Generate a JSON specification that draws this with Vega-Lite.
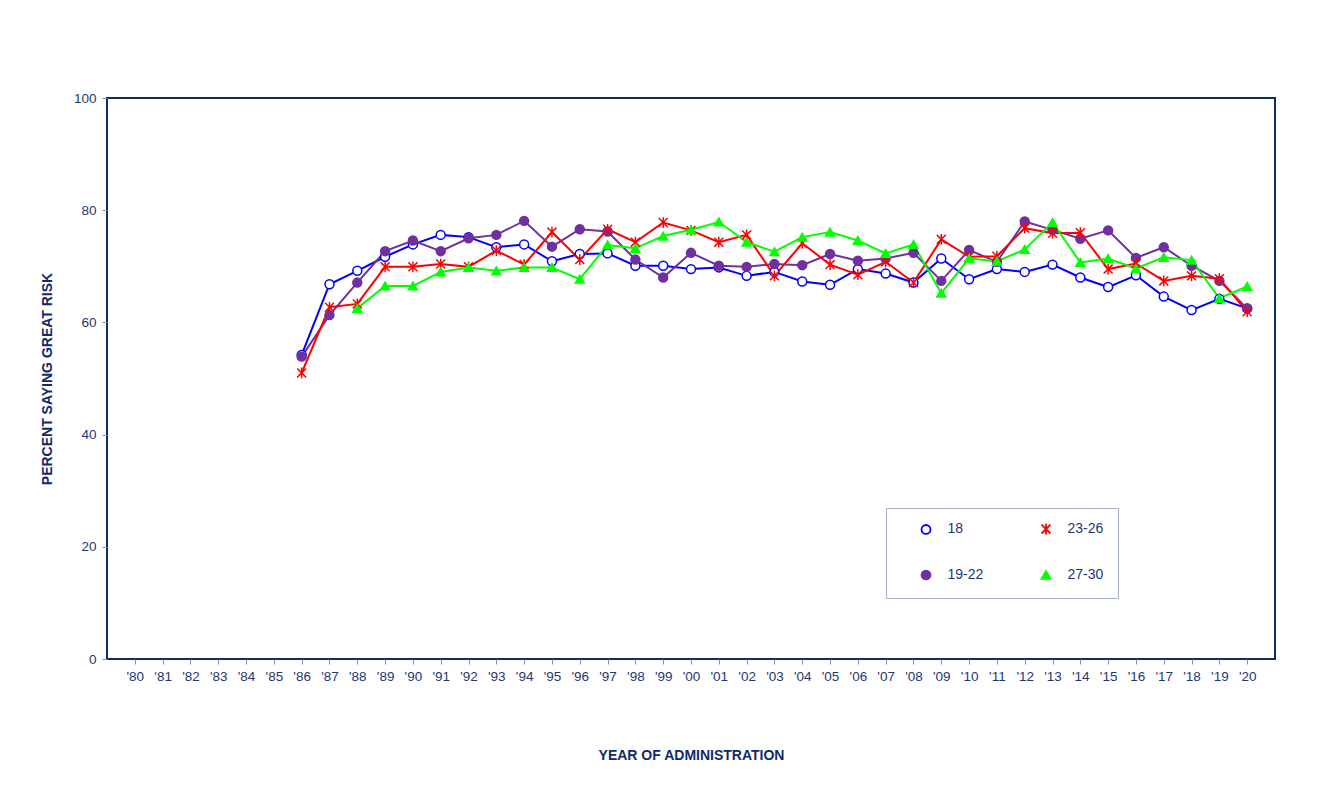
{
  "$schema": "https://vega.github.io/schema/vega-lite/v6.json",
  "width": 1168,
  "height": 561,
  "autosize": "none",
  "padding": {"left": 107, "top": 98, "right": 58, "bottom": 149},
  "background": "white",
  "config": {
    "font": "Liberation Sans",
    "view": {"stroke": "#0F2A6B", "strokeWidth": 2},
    "axis": {"labelColor": "#1F3770", "titleColor": "#0F2A6B", "tickColor": "#8090B0", "domain": false, "grid": false, "labelFontSize": 13.5, "titleFontSize": 14, "titleFontWeight": "bold", "labelFont": "Liberation Sans", "titleFont": "Liberation Sans"},
    "legend": {"title": null, "orient": "none", "legendX": 779, "legendY": 410, "direction": "horizontal", "columns": 2, "strokeColor": "#A7B0CC", "fillColor": "white", "padding": 14, "labelFontSize": 14, "labelColor": "#1F3770", "rowPadding": 28, "columnPadding": 36, "symbolOffset": 19, "labelOffset": 14.5, "gridAlign": "all"}
  },
  "data": {"values": [
    {"year": "'86", "series": "18", "value": 54.2},
    {"year": "'87", "series": "18", "value": 66.8},
    {"year": "'88", "series": "18", "value": 69.2},
    {"year": "'89", "series": "18", "value": 71.7},
    {"year": "'90", "series": "18", "value": 73.9},
    {"year": "'91", "series": "18", "value": 75.6},
    {"year": "'92", "series": "18", "value": 75.2},
    {"year": "'93", "series": "18", "value": 73.4},
    {"year": "'94", "series": "18", "value": 73.9},
    {"year": "'95", "series": "18", "value": 70.9},
    {"year": "'96", "series": "18", "value": 72.2},
    {"year": "'97", "series": "18", "value": 72.3},
    {"year": "'98", "series": "18", "value": 70.1},
    {"year": "'99", "series": "18", "value": 70.1},
    {"year": "'00", "series": "18", "value": 69.5},
    {"year": "'01", "series": "18", "value": 69.8},
    {"year": "'02", "series": "18", "value": 68.3},
    {"year": "'03", "series": "18", "value": 69.0},
    {"year": "'04", "series": "18", "value": 67.3},
    {"year": "'05", "series": "18", "value": 66.7},
    {"year": "'06", "series": "18", "value": 69.5},
    {"year": "'07", "series": "18", "value": 68.7},
    {"year": "'08", "series": "18", "value": 67.1},
    {"year": "'09", "series": "18", "value": 71.4},
    {"year": "'10", "series": "18", "value": 67.7},
    {"year": "'11", "series": "18", "value": 69.5},
    {"year": "'12", "series": "18", "value": 69.0},
    {"year": "'13", "series": "18", "value": 70.3},
    {"year": "'14", "series": "18", "value": 68.0},
    {"year": "'15", "series": "18", "value": 66.3},
    {"year": "'16", "series": "18", "value": 68.4},
    {"year": "'17", "series": "18", "value": 64.6},
    {"year": "'18", "series": "18", "value": 62.2},
    {"year": "'19", "series": "18", "value": 64.2},
    {"year": "'20", "series": "18", "value": 62.5},
    {"year": "'86", "series": "19-22", "value": 53.9},
    {"year": "'87", "series": "19-22", "value": 61.3},
    {"year": "'88", "series": "19-22", "value": 67.1},
    {"year": "'89", "series": "19-22", "value": 72.7},
    {"year": "'90", "series": "19-22", "value": 74.6},
    {"year": "'91", "series": "19-22", "value": 72.7},
    {"year": "'92", "series": "19-22", "value": 75.0},
    {"year": "'93", "series": "19-22", "value": 75.6},
    {"year": "'94", "series": "19-22", "value": 78.1},
    {"year": "'95", "series": "19-22", "value": 73.5},
    {"year": "'96", "series": "19-22", "value": 76.6},
    {"year": "'97", "series": "19-22", "value": 76.2},
    {"year": "'98", "series": "19-22", "value": 71.2},
    {"year": "'99", "series": "19-22", "value": 68.0},
    {"year": "'00", "series": "19-22", "value": 72.4},
    {"year": "'01", "series": "19-22", "value": 70.1},
    {"year": "'02", "series": "19-22", "value": 69.9},
    {"year": "'03", "series": "19-22", "value": 70.4},
    {"year": "'04", "series": "19-22", "value": 70.2},
    {"year": "'05", "series": "19-22", "value": 72.2},
    {"year": "'06", "series": "19-22", "value": 71.0},
    {"year": "'07", "series": "19-22", "value": 71.4},
    {"year": "'08", "series": "19-22", "value": 72.4},
    {"year": "'09", "series": "19-22", "value": 67.4},
    {"year": "'10", "series": "19-22", "value": 72.9},
    {"year": "'11", "series": "19-22", "value": 70.8},
    {"year": "'12", "series": "19-22", "value": 78.0},
    {"year": "'13", "series": "19-22", "value": 76.5},
    {"year": "'14", "series": "19-22", "value": 74.9},
    {"year": "'15", "series": "19-22", "value": 76.4},
    {"year": "'16", "series": "19-22", "value": 71.5},
    {"year": "'17", "series": "19-22", "value": 73.4},
    {"year": "'18", "series": "19-22", "value": 70.1},
    {"year": "'19", "series": "19-22", "value": 67.4},
    {"year": "'20", "series": "19-22", "value": 62.5},
    {"year": "'86", "series": "23-26", "value": 51.0},
    {"year": "'87", "series": "23-26", "value": 62.7},
    {"year": "'88", "series": "23-26", "value": 63.3},
    {"year": "'89", "series": "23-26", "value": 69.9},
    {"year": "'90", "series": "23-26", "value": 69.9},
    {"year": "'91", "series": "23-26", "value": 70.4},
    {"year": "'92", "series": "23-26", "value": 69.9},
    {"year": "'93", "series": "23-26", "value": 72.8},
    {"year": "'94", "series": "23-26", "value": 70.3},
    {"year": "'95", "series": "23-26", "value": 76.1},
    {"year": "'96", "series": "23-26", "value": 71.2},
    {"year": "'97", "series": "23-26", "value": 76.6},
    {"year": "'98", "series": "23-26", "value": 74.3},
    {"year": "'99", "series": "23-26", "value": 77.8},
    {"year": "'00", "series": "23-26", "value": 76.4},
    {"year": "'01", "series": "23-26", "value": 74.3},
    {"year": "'02", "series": "23-26", "value": 75.6},
    {"year": "'03", "series": "23-26", "value": 68.3},
    {"year": "'04", "series": "23-26", "value": 74.1},
    {"year": "'05", "series": "23-26", "value": 70.3},
    {"year": "'06", "series": "23-26", "value": 68.5},
    {"year": "'07", "series": "23-26", "value": 70.8},
    {"year": "'08", "series": "23-26", "value": 67.1},
    {"year": "'09", "series": "23-26", "value": 74.8},
    {"year": "'10", "series": "23-26", "value": 71.7},
    {"year": "'11", "series": "23-26", "value": 71.8},
    {"year": "'12", "series": "23-26", "value": 76.8},
    {"year": "'13", "series": "23-26", "value": 75.9},
    {"year": "'14", "series": "23-26", "value": 76.0},
    {"year": "'15", "series": "23-26", "value": 69.5},
    {"year": "'16", "series": "23-26", "value": 70.5},
    {"year": "'17", "series": "23-26", "value": 67.4},
    {"year": "'18", "series": "23-26", "value": 68.3},
    {"year": "'19", "series": "23-26", "value": 67.8},
    {"year": "'20", "series": "23-26", "value": 61.9},
    {"year": "'88", "series": "27-30", "value": 62.5},
    {"year": "'89", "series": "27-30", "value": 66.5},
    {"year": "'90", "series": "27-30", "value": 66.5},
    {"year": "'91", "series": "27-30", "value": 69.0},
    {"year": "'92", "series": "27-30", "value": 69.8},
    {"year": "'93", "series": "27-30", "value": 69.2},
    {"year": "'94", "series": "27-30", "value": 69.8},
    {"year": "'95", "series": "27-30", "value": 69.8},
    {"year": "'96", "series": "27-30", "value": 67.7},
    {"year": "'97", "series": "27-30", "value": 73.8},
    {"year": "'98", "series": "27-30", "value": 73.2},
    {"year": "'99", "series": "27-30", "value": 75.4},
    {"year": "'00", "series": "27-30", "value": 76.5},
    {"year": "'01", "series": "27-30", "value": 77.9},
    {"year": "'02", "series": "27-30", "value": 74.3},
    {"year": "'03", "series": "27-30", "value": 72.6},
    {"year": "'04", "series": "27-30", "value": 75.2},
    {"year": "'05", "series": "27-30", "value": 76.1},
    {"year": "'06", "series": "27-30", "value": 74.6},
    {"year": "'07", "series": "27-30", "value": 72.3},
    {"year": "'08", "series": "27-30", "value": 73.9},
    {"year": "'09", "series": "27-30", "value": 65.2},
    {"year": "'10", "series": "27-30", "value": 71.4},
    {"year": "'11", "series": "27-30", "value": 70.9},
    {"year": "'12", "series": "27-30", "value": 73.0},
    {"year": "'13", "series": "27-30", "value": 77.8},
    {"year": "'14", "series": "27-30", "value": 70.7},
    {"year": "'15", "series": "27-30", "value": 71.4},
    {"year": "'16", "series": "27-30", "value": 69.6},
    {"year": "'17", "series": "27-30", "value": 71.6},
    {"year": "'18", "series": "27-30", "value": 71.1},
    {"year": "'19", "series": "27-30", "value": 64.3},
    {"year": "'20", "series": "27-30", "value": 66.4}
  ]},
  "encoding": {
    "x": {
      "field": "year", "type": "ordinal",
      "scale": {"type": "point", "padding": 1, "domain": ["'80","'81","'82","'83","'84","'85","'86","'87","'88","'89","'90","'91","'92","'93","'94","'95","'96","'97","'98","'99","'00","'01","'02","'03","'04","'05","'06","'07","'08","'09","'10","'11","'12","'13","'14","'15","'16","'17","'18","'19","'20"]},
      "axis": {"title": "YEAR OF ADMINISTRATION", "labelAngle": 0, "tickSize": 5, "labelPadding": 5, "titlePadding": 66}
    },
    "y": {
      "field": "value", "type": "quantitative",
      "scale": {"domain": [0, 100], "nice": false, "zero": true},
      "axis": {"title": "PERCENT SAYING GREAT RISK", "values": [0, 20, 40, 60, 80, 100], "tickSize": 5, "labelPadding": 6, "titlePadding": 19}
    }
  },
  "layer": [
    {
      "mark": {"type": "line", "strokeWidth": 2},
      "encoding": {
        "stroke": {"field": "series", "type": "nominal",
          "scale": {"domain": ["18", "23-26", "19-22", "27-30"], "range": ["#0000FF", "#FF0000", "#7030A0", "#00FF00"]},
          "legend": {"encode": {"symbols": {"update": {"size": {"value": 50}, "strokeWidth": {"value": 1.8}, "shape": {"signal": "datum.value === '18' ? 'M-5,0L-1,0M1,0L5,0M-1,0A1,1,0,1,1,1,0A1,1,0,1,1,-1,0Z' : datum.value === '23-26' ? 'M-5,0L5,0M-1,-1L1,1M-1,1L1,-1M0,-1.3L0,1.3' : datum.value === '19-22' ? 'M-5,0L5,0M-1.2,0A1.2,1.2,0,1,1,1.2,0A1.2,1.2,0,1,1,-1.2,0Z' : 'M-5,0L5,0M0,-1.2L1.2,0.9L-1.2,0.9Z'"}}}}}}
      }
    },
    {
      "mark": {"type": "point", "filled": false, "strokeWidth": 1.5, "opacity": 1},
      "encoding": {
        "stroke": {"field": "series", "type": "nominal",
          "scale": {"domain": ["18", "23-26", "19-22", "27-30"], "range": ["#0000FF", "#FF0000", "#7030A0", "#00FF00"]},
          "legend": {"encode": {"symbols": {"update": {"size": {"value": 50}, "strokeWidth": {"value": 1.8}, "shape": {"signal": "datum.value === '18' ? 'M-5,0L-1,0M1,0L5,0M-1,0A1,1,0,1,1,1,0A1,1,0,1,1,-1,0Z' : datum.value === '23-26' ? 'M-5,0L5,0M-1,-1L1,1M-1,1L1,-1M0,-1.3L0,1.3' : datum.value === '19-22' ? 'M-5,0L5,0M-1.2,0A1.2,1.2,0,1,1,1.2,0A1.2,1.2,0,1,1,-1.2,0Z' : 'M-5,0L5,0M0,-1.2L1.2,0.9L-1.2,0.9Z'"}}}}}},
        "fill": {"field": "series", "type": "nominal",
          "scale": {"domain": ["18", "23-26", "19-22", "27-30"], "range": ["#FFFFFF", "#FF0000", "#7030A0", "#00FF00"]},
          "legend": {"encode": {"symbols": {"update": {"size": {"value": 50}, "strokeWidth": {"value": 1.8}, "shape": {"signal": "datum.value === '18' ? 'M-5,0L-1,0M1,0L5,0M-1,0A1,1,0,1,1,1,0A1,1,0,1,1,-1,0Z' : datum.value === '23-26' ? 'M-5,0L5,0M-1,-1L1,1M-1,1L1,-1M0,-1.3L0,1.3' : datum.value === '19-22' ? 'M-5,0L5,0M-1.2,0A1.2,1.2,0,1,1,1.2,0A1.2,1.2,0,1,1,-1.2,0Z' : 'M-5,0L5,0M0,-1.2L1.2,0.9L-1.2,0.9Z'"}}}}}},
        "shape": {"field": "series", "type": "nominal",
          "scale": {"domain": ["18", "23-26", "19-22", "27-30"], "range": ["circle", "M-1,-1L1,1M-1,1L1,-1M0,-1.2L0,1.2", "circle", "triangle-up"]},
          "legend": {"encode": {"symbols": {"update": {"size": {"value": 50}, "strokeWidth": {"value": 1.8}, "shape": {"signal": "datum.value === '18' ? 'M-5,0L-1,0M1,0L5,0M-1,0A1,1,0,1,1,1,0A1,1,0,1,1,-1,0Z' : datum.value === '23-26' ? 'M-5,0L5,0M-1,-1L1,1M-1,1L1,-1M0,-1.3L0,1.3' : datum.value === '19-22' ? 'M-5,0L5,0M-1.2,0A1.2,1.2,0,1,1,1.2,0A1.2,1.2,0,1,1,-1.2,0Z' : 'M-5,0L5,0M0,-1.2L1.2,0.9L-1.2,0.9Z'"}}}}}},
        "size": {"field": "series", "type": "nominal",
          "scale": {"domain": ["18", "23-26", "19-22", "27-30"], "range": [80, 80, 120, 90]},
          "legend": {"encode": {"symbols": {"update": {"size": {"value": 50}, "strokeWidth": {"value": 1.8}, "shape": {"signal": "datum.value === '18' ? 'M-5,0L-1,0M1,0L5,0M-1,0A1,1,0,1,1,1,0A1,1,0,1,1,-1,0Z' : datum.value === '23-26' ? 'M-5,0L5,0M-1,-1L1,1M-1,1L1,-1M0,-1.3L0,1.3' : datum.value === '19-22' ? 'M-5,0L5,0M-1.2,0A1.2,1.2,0,1,1,1.2,0A1.2,1.2,0,1,1,-1.2,0Z' : 'M-5,0L5,0M0,-1.2L1.2,0.9L-1.2,0.9Z'"}}}}}}
      }
    }
  ]
}
